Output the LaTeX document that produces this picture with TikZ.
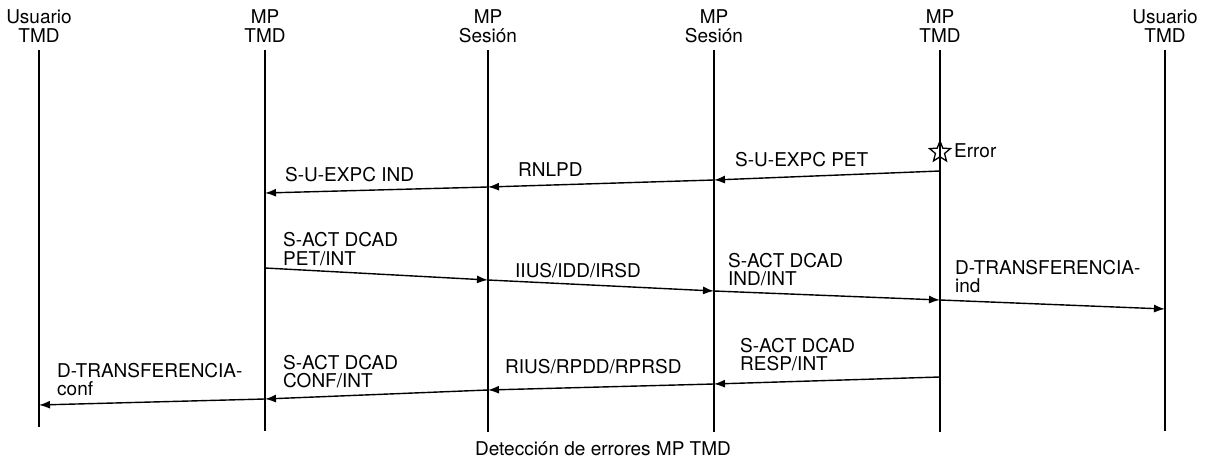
\documentclass[tikz,border=0pt]{standalone}
\usepackage{fontspec}
\setmainfont{TeX Gyre Heros}
\usetikzlibrary{arrows.meta,shapes.geometric}
\tikzset{
  lifeline/.style={line width=1.4pt},
  msg/.style={line width=1.4pt,-{Latex[length=11pt,width=8pt]}},
  head/.style={align=center,inner sep=0pt,font=\fontsize{19}{19}\selectfont},
  lbl/.style={anchor=base west,align=left,inner sep=0pt,font=\fontsize{19}{18}\selectfont},
}
\begin{document}
\begin{tikzpicture}[x=1pt,y=-1pt]
  \useasboundingbox (0,0) rectangle (1211,468);

  % lifelines with their headings
  \foreach \n/\x/\a/\b/\e in {usrL/39/Usuario/TMD/427, tmdL/265/MP/TMD/431,
      sesL/488/MP/Sesión/432, sesR/714/MP/Sesión/432, tmdR/940/MP/TMD/432,
      usrR/1165/Usuario/TMD/431} {
    \node[head] (\n) at (\x,26) {\a\\\b};
    \coordinate (\n-top) at (\x,50);
    \coordinate (\n-bot) at (\x,\e);
    \draw[lifeline] (\n-top) -- (\n-bot);
  }

  % error detected in MP TMD
  \node[star,star points=5,star point ratio=2.3,draw,line width=1.3pt,
        minimum size=22pt,inner sep=0pt] (err) at (940,152) {};
  \node[lbl] (errtxt) at (954,158) {Error};

  % S-U-EXPC
  \coordinate (a1) at (940,171);
  \coordinate (a2) at (714,180);
  \coordinate (a3) at (488,187);
  \coordinate (a4) at (265,193);
  \draw[msg] (a1) -- (a2);
  \draw[msg] (a2) -- (a3);
  \draw[msg] (a3) -- (a4);
  \node[lbl] (la1) at (735,167) {S-U-EXPC PET};
  \node[lbl] (la2) at (518,177) {RNLPD};
  \node[lbl] (la3) at (285,182) {S-U-EXPC IND};

  % S-ACT DCAD peticion
  \coordinate (b1) at (265,268);
  \coordinate (b2) at (488,280);
  \coordinate (b3) at (714,291);
  \coordinate (b4) at (940,300);
  \coordinate (b5) at (1165,309);
  \draw[msg] (b1) -- (b2);
  \draw[msg] (b2) -- (b3);
  \draw[msg] (b3) -- (b4);
  \draw[msg] (b4) -- (b5);
  \node[lbl] (lb1) at (283,265) {S-ACT DCAD\\PET/INT};
  \node[lbl] (lb2) at (515,277) {IIUS/IDD/IRSD};
  \node[lbl] (lb3) at (728,285) {S-ACT DCAD\\IND/INT};
  \node[lbl] (lb4) at (955,292) {D-TRANSFERENCIA-\\ind};

  % S-ACT DCAD respuesta
  \coordinate (c1) at (940,377);
  \coordinate (c2) at (714,384);
  \coordinate (c3) at (488,390);
  \coordinate (c4) at (265,399);
  \coordinate (c5) at (39,405);
  \draw[msg] (c1) -- (c2);
  \draw[msg] (c2) -- (c3);
  \draw[msg] (c3) -- (c4);
  \draw[msg] (c4) -- (c5);
  \node[lbl] (lc1) at (740,370) {S-ACT DCAD\\RESP/INT};
  \node[lbl] (lc2) at (505,373) {RIUS/RPDD/RPRSD};
  \node[lbl] (lc3) at (283,387) {S-ACT DCAD\\CONF/INT};
  \node[lbl] (lc4) at (57,395) {D-TRANSFERENCIA-\\conf};

  \node[anchor=base,inner sep=0pt,font=\fontsize{19}{19}\selectfont] (cap) at (603,455)
    {Detección de errores MP TMD};
\end{tikzpicture}
\end{document}
